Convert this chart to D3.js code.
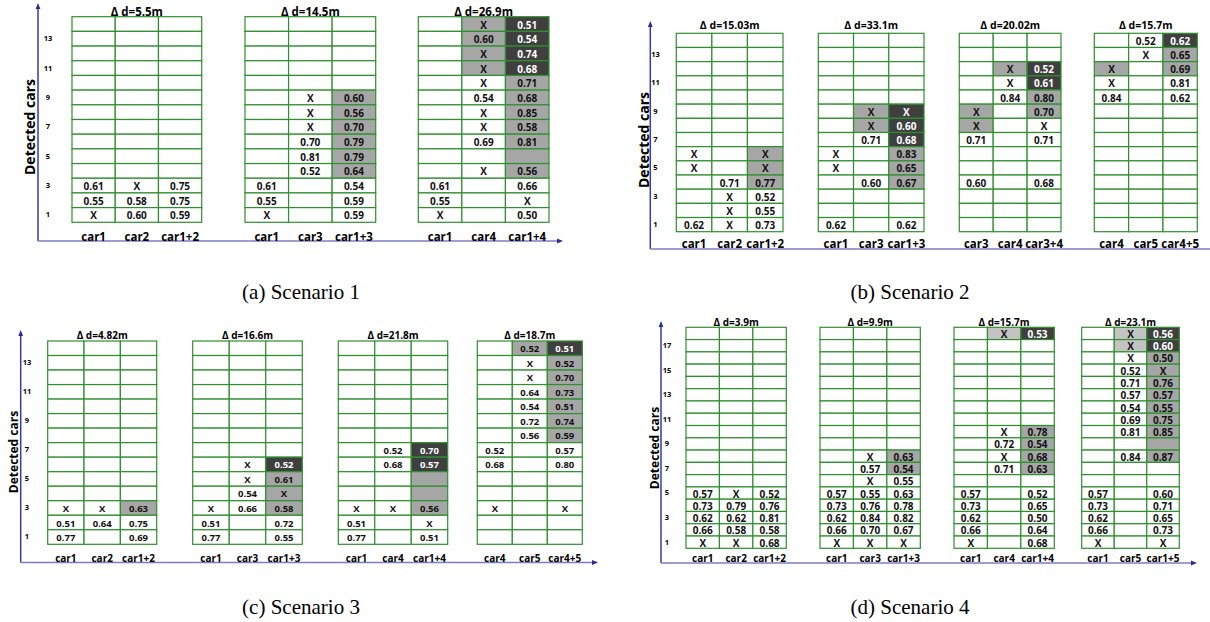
<!DOCTYPE html>
<html><head><meta charset="utf-8">
<script src="https://cdn.jsdelivr.net/npm/d3@7"></script>
<style>
html,body{margin:0;padding:0;background:#fff;}
svg{display:block;}
</style></head>
<body>
<svg id="chart" width="1210" height="622"></svg>
<script>
// ---------------- DATA (rows listed top → bottom) ----------------
const E = ["", "", ""];
const rowTicks14 = [1, 3, 5, 7, 9, 11, 13];
const rowTicks18 = [1, 3, 5, 7, 9, 11, 13, 15, 17];
const captions = ["(a) Scenario 1", "(b) Scenario 2", "(c) Scenario 3", "(d) Scenario 4"];

// Scenario 1
const titlesA = ["Δ d=5.5m", "Δ d=14.5m", "Δ d=26.9m"];
const colsA = [["car1", "car2", "car1+2"], ["car1", "car3", "car1+3"], ["car1", "car4", "car1+4"]];
const valsA1 = [E,E,E,E,E,E,E,E,E,E,E, ["0.61","X","0.75"], ["0.55","0.58","0.75"], ["X","0.60","0.59"]];
const shadeA1 = ["...","...","...","...","...","...","...","...","...","...","...","...","...","..."];
const valsA2 = [E,E,E,E,E, ["","X","0.60"],["","X","0.56"],["","X","0.70"],["","0.70","0.79"],["","0.81","0.79"],["","0.52","0.64"],["0.61","","0.54"],["0.55","","0.59"],["X","","0.59"]];
const shadeA2 = ["...","...","...","...","...","..g","..g","..g","..g","..g","..g","...","...","..."];
const valsA3 = [["","X","0.51"],["","0.60","0.54"],["","X","0.74"],["","X","0.68"],["","X","0.71"],["","0.54","0.68"],["","X","0.85"],["","X","0.58"],["","0.69","0.81"],E,["","X","0.56"],["0.61","","0.66"],["0.55","","X"],["X","","0.50"]];
const shadeA3 = [".gd",".gd",".gd",".gd","..g","..g","..g","..g","..g","..g","..g","...","...","..."];

// Scenario 2
const titlesB = ["Δ d=15.03m", "Δ d=33.1m", "Δ d=20.02m", "Δ d=15.7m"];
const colsB = [["car1", "car2", "car1+2"], ["car1", "car3", "car1+3"], ["car3", "car4", "car3+4"], ["car4", "car5", "car4+5"]];
const valsB1 = [E,E,E,E,E,E,E,E, ["X","","X"],["X","","X"],["","0.71","0.77"],["","X","0.52"],["","X","0.55"],["0.62","X","0.73"]];
const shadeB1 = ["...","...","...","...","...","...","...","...","..g","..g","..g","...","...","..."];
const valsB2 = [E,E,E,E,E, ["","X","X"],["","X","0.60"],["","0.71","0.68"],["X","","0.83"],["X","","0.65"],["","0.60","0.67"],E,E,["0.62","","0.62"]];
const shadeB2 = ["...","...","...","...","...",".gd",".gd","..d","..g","..g","..g","...","...","..."];
const valsB3 = [E,E, ["","X","0.52"],["","X","0.61"],["","0.84","0.80"],["X","","0.70"],["X","","X"],["0.71","","0.71"],E,E,["0.60","","0.68"],E,E,E];
const shadeB3 = ["...","...",".gd","..d","..g","g.g","g..","...","...","...","...","...","...","..."];
const valsB4 = [["","0.52","0.62"],["","X","0.65"],["X","","0.69"],["X","","0.81"],["0.84","","0.62"],E,E,E,E,E,E,E,E,E];
const shadeB4 = ["..d","..g","g.g","...","...","...","...","...","...","...","...","...","...","..."];

// Scenario 3
const titlesC = ["Δ d=4.82m", "Δ d=16.6m", "Δ d=21.8m", "Δ d=18.7m"];
const colsC = [["car1", "car2", "car1+2"], ["car1", "car3", "car1+3"], ["car1", "car4", "car1+4"], ["car4", "car5", "car4+5"]];
const valsC1 = [E,E,E,E,E,E,E,E,E,E,E, ["X","X","0.63"],["0.51","0.64","0.75"],["0.77","","0.69"]];
const shadeC1 = ["...","...","...","...","...","...","...","...","...","...","...","..g","...","..."];
const valsC2 = [E,E,E,E,E,E,E,E, ["","X","0.52"],["","X","0.61"],["","0.54","X"],["X","0.66","0.58"],["0.51","","0.72"],["0.77","","0.55"]];
const shadeC2 = ["...","...","...","...","...","...","...","...","..d","..g","..g","..g","...","..."];
const valsC3 = [E,E,E,E,E,E,E, ["","0.52","0.70"],["","0.68","0.57"],E,E,["X","X","0.56"],["0.51","","X"],["0.77","","0.51"]];
const shadeC3 = ["...","...","...","...","...","...","...","..d","..d","..g","..g","..g","...","..."];
const valsC4 = [["","0.52","0.51"],["","X","0.52"],["","X","0.70"],["","0.64","0.73"],["","0.54","0.51"],["","0.72","0.74"],["","0.56","0.59"],["0.52","","0.57"],["0.68","","0.80"],E,E,["X","","X"],E,E];
const shadeC4 = [".gd","..g","..g","..g","..g","..g","..g","...","...","...","...","...","...","..."];

// Scenario 4
const titlesD = ["Δ d=3.9m", "Δ d=9.9m", "Δ d=15.7m", "Δ d=23.1m"];
const colsD = [["car1", "car2", "car1+2"], ["car1", "car3", "car1+3"], ["car1", "car4", "car1+4"], ["car1", "car5", "car1+5"]];
const valsD1 = [E,E,E,E,E,E,E,E,E,E,E,E,E, ["0.57","X","0.52"],["0.73","0.79","0.76"],["0.62","0.62","0.81"],["0.66","0.58","0.58"],["X","X","0.68"]];
const shadeD1 = ["...","...","...","...","...","...","...","...","...","...","...","...","...","...","...","...","...","..."];
const valsD2 = [E,E,E,E,E,E,E,E,E,E, ["","X","0.63"],["","0.57","0.54"],["","X","0.55"],["0.57","0.55","0.63"],["0.73","0.76","0.78"],["0.62","0.84","0.82"],["0.66","0.70","0.67"],["X","X","X"]];
const shadeD2 = ["...","...","...","...","...","...","...","...","...","...","..g","..g","...","...","...","...","...","..."];
const valsD3 = [["","X","0.53"],E,E,E,E,E,E,E, ["","X","0.78"],["","0.72","0.54"],["","X","0.68"],["","0.71","0.63"],E,["0.57","","0.52"],["0.73","","0.65"],["0.62","","0.50"],["0.66","","0.64"],["X","","0.68"]];
const shadeD3 = [".ld","...","...","...","...","...","...","...","..g","..g","..g","..g","...","...","...","...","...","..."];
const valsD4 = [["","X","0.56"],["","X","0.60"],["","X","0.50"],["","0.52","X"],["","0.71","0.76"],["","0.57","0.57"],["","0.54","0.55"],["","0.69","0.75"],["","0.81","0.85"],E,["","0.84","0.87"],E,E,["0.57","","0.60"],["0.73","","0.71"],["0.62","","0.65"],["0.66","","0.73"],["X","","X"]];
const shadeD4 = [".ld",".ld","..g","..g","..g","..g","..g","..g","..g","..g","..g","...","...","...","...","...","...","..."];

// ---------------- LAYOUT / STYLE ----------------
const FONT = "'Open Sans', 'DejaVu Sans', sans-serif";
const SHADE = { ".": "#ffffff", "g": "#a6a6a6", "d": "#3f3f3f", "l": "#c3c3c3" };
const GREEN = "#2f8f2f";

const panels = [
  { titles: titlesA, cols: colsA, vals: [valsA1, valsA2, valsA3], shade: [shadeA1, shadeA2, shadeA3], ticks: rowTicks14,
    yAxisX: 38, axisTop: 3, axisY: 241, axisRight: 563, arrowRight: true,
    top: 16.7, bottom: 222.3, lefts: [72, 245, 418.3], rights: [201.7, 375.7, 549],
    rowLblX: 48, titleY: 11.5, colLblY: 236, ylabX: 29, ylabY: 127, ylabFs: 14,
    cellFs: 10, titleFs: 11.5, colFs: 11.5, rowFs: 7.5, capX: 301, capY: 292 },
  { titles: titlesB, cols: colsB, vals: [valsB1, valsB2, valsB3, valsB4], shade: [shadeB1, shadeB2, shadeB3, shadeB4], ticks: rowTicks14,
    yAxisX: 650.3, axisTop: 21, axisY: 249, axisRight: 1210, arrowRight: false,
    top: 33.3, bottom: 231.7, lefts: [676.3, 818.3, 959.3, 1094.3], rights: [783, 924, 1061, 1197.3],
    rowLblX: 655.5, titleY: 25, colLblY: 243, ylabX: 643, ylabY: 140, ylabFs: 14,
    cellFs: 10, titleFs: 10.5, colFs: 11.5, rowFs: 7.5, capX: 910, capY: 292 },
  { titles: titlesC, cols: colsC, vals: [valsC1, valsC2, valsC3, valsC4], shade: [shadeC1, shadeC2, shadeC3, shadeC4], ticks: rowTicks14,
    yAxisX: 20.7, axisTop: 330, axisY: 562.5, axisRight: 598, arrowRight: true,
    top: 341, bottom: 544.3, lefts: [47.7, 192.7, 338.3, 477.3], rights: [156.7, 302.3, 447.7, 582.3],
    rowLblX: 27, titleY: 335, colLblY: 558, ylabX: 13, ylabY: 452, ylabFs: 12,
    cellFs: 9.5, titleFs: 10, colFs: 10, rowFs: 7.5, capX: 301, capY: 607 },
  { titles: titlesD, cols: colsD, vals: [valsD1, valsD2, valsD3, valsD4], shade: [shadeD1, shadeD2, shadeD3, shadeD4], ticks: rowTicks18,
    yAxisX: 661, axisTop: 321, axisY: 563, axisRight: 1197, arrowRight: true,
    top: 327.3, bottom: 548.3, lefts: [686, 820, 954, 1081.7], rights: [786.3, 920.3, 1054.3, 1179.3],
    rowLblX: 667, titleY: 321.7, colLblY: 558.3, ylabX: 654, ylabY: 448, ylabFs: 12,
    cellFs: 10, titleFs: 10, colFs: 10, rowFs: 7.5, capX: 910, capY: 607 }
];

const svg = d3.select("#chart");
const defs = svg.append("defs");
function marker(id, color) {
  defs.append("marker").attr("id", id).attr("viewBox", "0 0 10 10").attr("refX", 5).attr("refY", 5)
    .attr("markerWidth", 4).attr("markerHeight", 4).attr("orient", "auto-start-reverse")
    .append("path").attr("d", "M0,1 L10,5 L0,9 z").attr("fill", color);
}
marker("arrY", "#2b2b96");
marker("arrX", "#2b2b96");

panels.forEach((p, pi) => {
  const g = svg.append("g");
  const nRows = p.vals[0].length;
  const rowDomain = d3.range(1, nRows + 1);

  // axes lines
  g.append("line").attr("x1", p.yAxisX).attr("x2", p.yAxisX).attr("y1", p.axisY).attr("y2", p.axisTop + 3)
    .attr("stroke", "#3a3aa0").attr("stroke-width", 1.5).attr("marker-end", "url(#arrY)");
  const xl = g.append("line").attr("x1", p.yAxisX).attr("x2", p.axisRight - (p.arrowRight ? 3 : 0)).attr("y1", p.axisY).attr("y2", p.axisY)
    .attr("stroke", "#7c7cc0").attr("stroke-width", 1.6);
  if (p.arrowRight) xl.attr("marker-end", "url(#arrX)");

  // y-axis title
  g.append("text").attr("transform", `translate(${p.ylabX},${p.ylabY}) rotate(-90)`)
    .attr("text-anchor", "middle").attr("dominant-baseline", "central")
    .attr("font-family", FONT).attr("font-weight", "bold").attr("font-size", p.ylabFs).attr("fill", "#000")
    .text("Detected cars");

  // row labels through a left axis on the band scale
  const yRow = d3.scaleBand().domain(rowDomain).range([p.bottom, p.top]);
  const rowAxis = d3.axisLeft(yRow).tickValues(p.ticks).tickSize(0).tickPadding(0);
  const ra = g.append("g").attr("transform", `translate(${p.rowLblX},0)`).call(rowAxis);
  ra.select(".domain").remove();
  ra.selectAll("text").attr("text-anchor", "middle").attr("x", 0)
    .attr("font-family", FONT).attr("font-weight", "bold").attr("font-size", p.rowFs).attr("fill", "#000");

  p.vals.forEach((vals, ti) => {
    const shade = p.shade[ti];
    const cols = p.cols[ti];
    const x = d3.scaleBand().domain(d3.range(cols.length)).range([p.lefts[ti], p.rights[ti]]);
    const y = d3.scaleBand().domain(rowDomain).range([p.bottom, p.top]);
    const cells = [];
    vals.forEach((row, ri) => {
      const rowNum = nRows - ri;
      row.forEach((v, ci) => cells.push({ v, ci, rowNum, s: shade[ri][ci] }));
    });
    const tg = g.append("g");
    tg.selectAll("rect").data(cells).join("rect")
      .attr("x", d => x(d.ci)).attr("y", d => y(d.rowNum))
      .attr("width", x.bandwidth()).attr("height", y.bandwidth())
      .attr("fill", d => SHADE[d.s]).attr("stroke", GREEN).attr("stroke-width", 1.2);
    tg.selectAll("text.v").data(cells.filter(d => d.v !== "")).join("text").attr("class", "v")
      .attr("x", d => x(d.ci) + x.bandwidth() / 2).attr("y", d => y(d.rowNum) + y.bandwidth() / 2 + 0.5)
      .attr("text-anchor", "middle").attr("dominant-baseline", "central")
      .attr("font-family", FONT).attr("font-weight", "bold").attr("font-size", p.cellFs)
      .attr("fill", d => d.s === "d" ? "#ffffff" : "#111")
      .text(d => d.v);
    // title
    tg.append("text").attr("x", (p.lefts[ti] + p.rights[ti]) / 2).attr("y", p.titleY)
      .attr("text-anchor", "middle").attr("dominant-baseline", "central")
      .attr("font-family", FONT).attr("font-weight", "bold").attr("font-size", p.titleFs).attr("fill", "#000")
      .text(p.titles[ti]);
    // column labels via bottom axis
    const xc = d3.scaleBand().domain(cols).range([p.lefts[ti], p.rights[ti]]);
    const ca = tg.append("g").attr("transform", `translate(0,${p.colLblY})`)
      .call(d3.axisBottom(xc).tickSize(0).tickPadding(0));
    ca.select(".domain").remove();
    ca.selectAll("text").attr("dy", null).attr("y", 0).attr("dominant-baseline", "central")
      .attr("font-family", FONT).attr("font-weight", "bold").attr("font-size", p.colFs).attr("fill", "#000");
  });

  // caption
  g.append("text").attr("x", p.capX).attr("y", p.capY).attr("text-anchor", "middle").attr("dominant-baseline", "central")
    .attr("font-family", "'Liberation Serif', 'Times New Roman', serif").attr("font-size", 21).attr("fill", "#000")
    .text(captions[pi]);
});
</script>
</body></html>
